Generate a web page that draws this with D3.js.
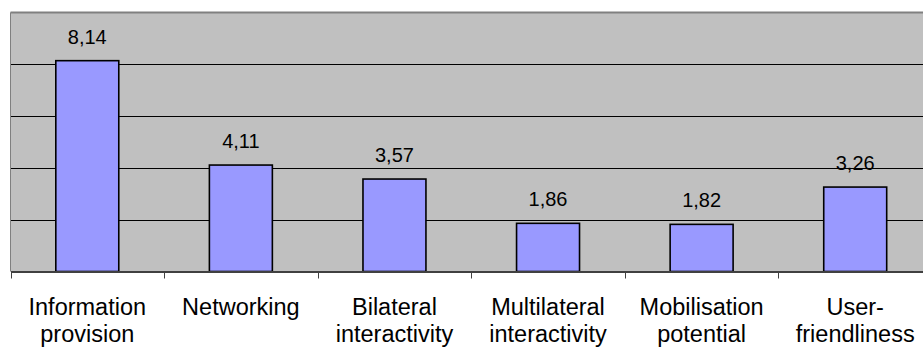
<!DOCTYPE html>
<html>
<head>
<meta charset="utf-8">
<script src="https://cdn.jsdelivr.net/npm/d3@7"></script>
<style>
  html, body { margin: 0; padding: 0; background: #fff; }
  svg { display: block; }
  text { font-family: Arial, "Liberation Sans", sans-serif; fill: #000; }
</style>
</head>
<body>
<svg id="chart" width="923" height="347"></svg>
<script>
// Survey scores by website function
const categories = [
  ["Information", "provision"],
  ["Networking"],
  ["Bilateral", "interactivity"],
  ["Multilateral", "interactivity"],
  ["Mobilisation", "potential"],
  ["User-", "friendliness"]
];
const values = [8.14, 4.11, 3.57, 1.86, 1.82, 3.26];
const yTicks = [0, 2, 4, 6, 8, 10];

const svg = d3.select("#chart");
const plotLeft = 10.5, plotRight = 932, plotTop = 12.5, plotBottom = 271.5;

const keys = categories.map(c => c.join(" "));
const x = d3.scaleBand().domain(keys).range([plotLeft, plotRight]).paddingInner(0).paddingOuter(0);
const y = d3.scaleLinear().domain([0, 10]).range([plotBottom, plotTop]);

// Plot area
svg.append("rect")
  .attr("x", plotLeft).attr("y", plotTop)
  .attr("width", plotRight - plotLeft).attr("height", plotBottom - plotTop)
  .attr("fill", "#c0c0c0");

// Horizontal gridlines
svg.append("g")
  .selectAll("line")
  .data(yTicks.filter(t => t > 0 && t < 10))
  .join("line")
  .attr("x1", plotLeft).attr("x2", plotRight)
  .attr("y1", d => Math.round(y(d)) + 0.5).attr("y2", d => Math.round(y(d)) + 0.5)
  .attr("stroke", "#000").attr("stroke-width", 1);

// Plot frame: top and left edges
svg.append("line")
  .attr("x1", plotLeft).attr("x2", plotRight)
  .attr("y1", plotTop).attr("y2", plotTop)
  .attr("stroke", "#808080").attr("stroke-width", 2);
svg.append("line")
  .attr("x1", plotLeft).attr("x2", plotLeft)
  .attr("y1", plotTop).attr("y2", plotBottom)
  .attr("stroke", "#808080").attr("stroke-width", 1);

// Bars
const barW = x.bandwidth() * 0.41;
svg.append("g")
  .selectAll("rect")
  .data(values)
  .join("rect")
  .attr("x", (d, i) => x(keys[i]) + (x.bandwidth() - barW) / 2)
  .attr("y", d => y(d))
  .attr("width", barW)
  .attr("height", d => plotBottom - y(d))
  .attr("fill", "#9999ff")
  .attr("stroke", "#000")
  .attr("stroke-width", 1.6);

// Value labels
svg.append("g")
  .selectAll("text")
  .data(values)
  .join("text")
  .attr("x", (d, i) => x(keys[i]) + x.bandwidth() / 2)
  .attr("y", d => y(d) - 17)
  .attr("text-anchor", "middle")
  .attr("font-size", 20)
  .text(d => d.toFixed(2).replace(".", ","));

// Category axis
const xAxis = svg.append("g")
  .attr("transform", `translate(0,${plotBottom})`)
  .call(d3.axisBottom(x).tickSize(0).tickFormat(""));
xAxis.select(".domain").attr("stroke", "#404040").attr("stroke-width", 2);

// Tick marks on band boundaries
svg.append("g")
  .selectAll("line")
  .data(d3.range(keys.length + 1))
  .join("line")
  .attr("x1", i => Math.round(plotLeft + i * x.step()) + 0.5)
  .attr("x2", i => Math.round(plotLeft + i * x.step()) + 0.5)
  .attr("y1", plotBottom).attr("y2", plotBottom + 7)
  .attr("stroke", "#404040").attr("stroke-width", 1);

// Category labels
const labels = svg.append("g")
  .selectAll("text")
  .data(categories)
  .join("text")
  .attr("x", (d, i) => x(keys[i]) + x.bandwidth() / 2)
  .attr("y", 315)
  .attr("text-anchor", "middle")
  .attr("font-size", 23.5);
labels.selectAll("tspan")
  .data(d => d)
  .join("tspan")
  .attr("x", function () { return d3.select(this.parentNode).attr("x"); })
  .attr("dy", (d, i) => i === 0 ? 0 : 27)
  .text(d => d);
</script>
</body>
</html>
